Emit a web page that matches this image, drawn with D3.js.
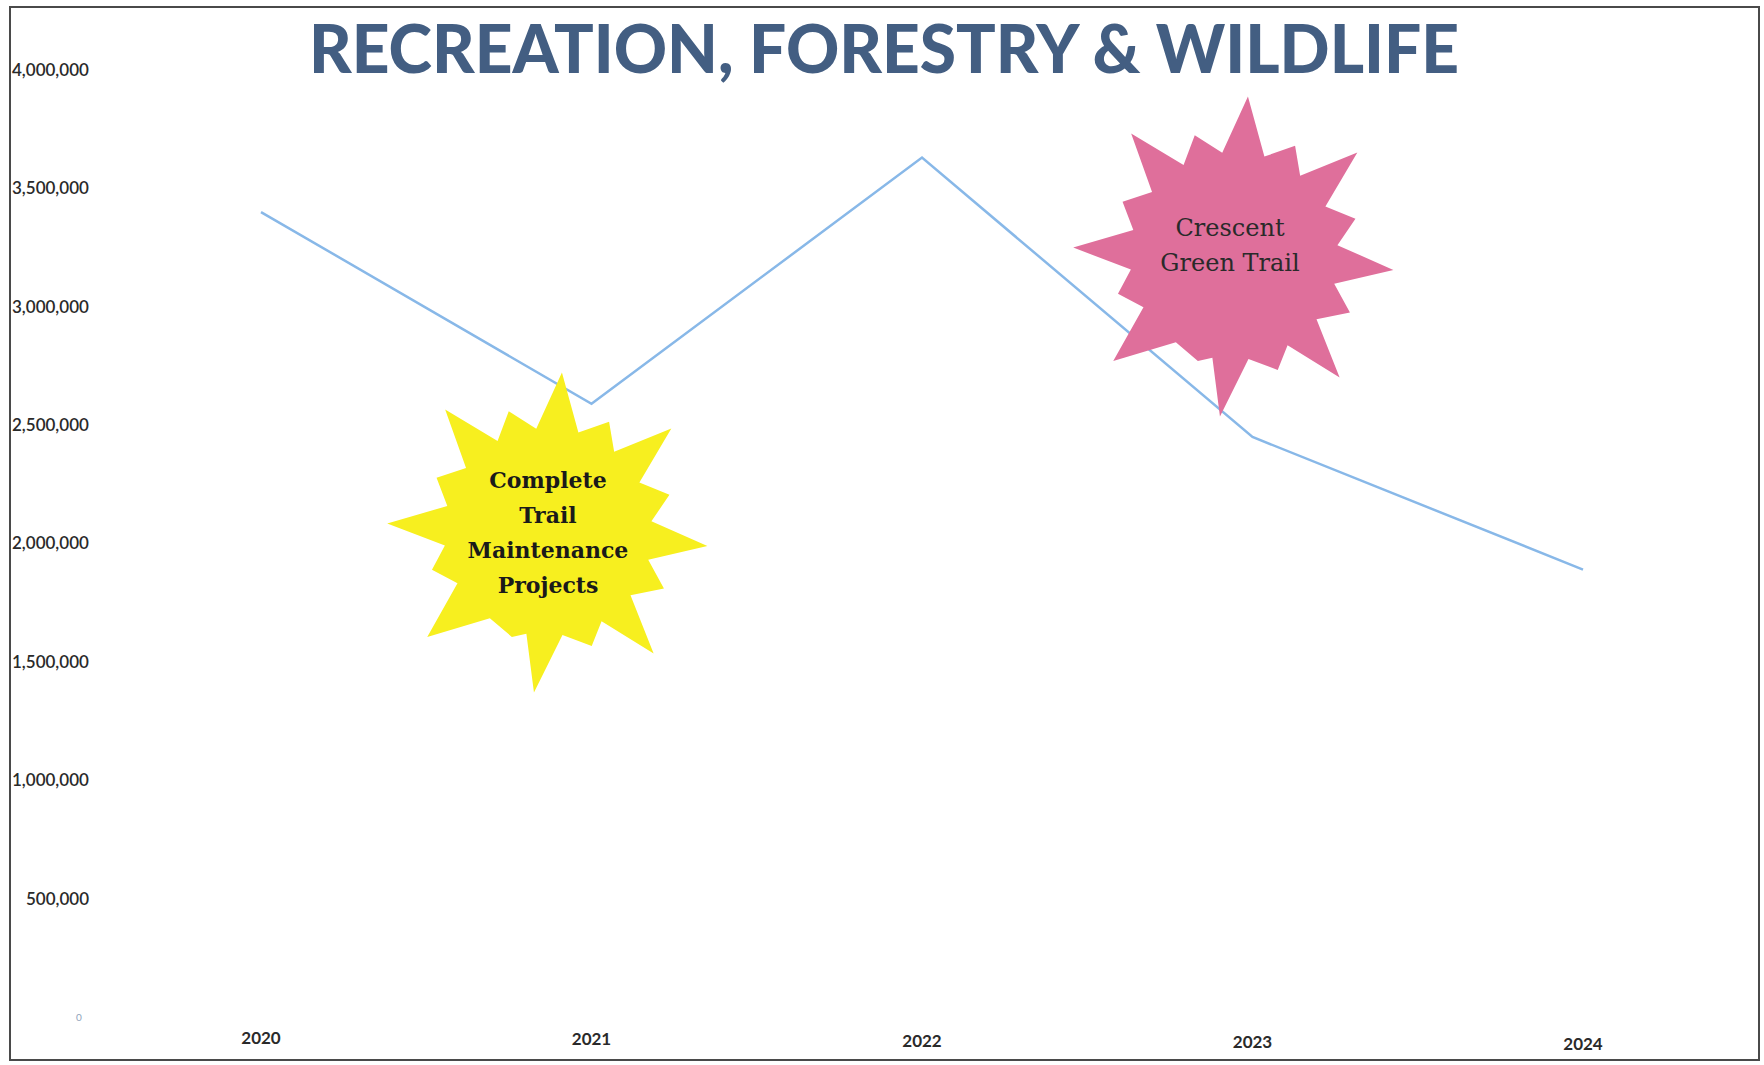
<!DOCTYPE html>
<html>
<head>
<meta charset="utf-8">
<script src="https://cdn.jsdelivr.net/npm/d3@7"></script>
<style>
  html, body { margin: 0; padding: 0; background: #fff; }
  svg { display: block; }
</style>
</head>
<body>
<svg id="chart" width="1764" height="1065"></svg>
<script>
// ---- data ----
const years = ["2020", "2021", "2022", "2023", "2024"];
const values = [3400000, 2590000, 3630000, 2450000, 1890000];
const yTicks = [0, 500000, 1000000, 1500000, 2000000, 2500000, 3000000, 3500000, 4000000];
const titleText = "RECREATION, FORESTRY & WILDLIFE";
const noteYellow = ["Complete", "Trail", "Maintenance", "Projects"];
const notePink = ["Crescent", "Green Trail"];

// starburst outline (angle deg, outer radius) shared by both callouts
const spikeAngles = [-85, -61, -40, -17, 5, 26, 49, 69, 95, 109, 139, 162, 183, 206, 230, 252];
const spikeRadii  = [160, 126, 161, 127, 160, 129, 161, 122, 161, 111, 160, 122, 161, 124, 160, 127];

const svg = d3.select("#chart");

// frame
svg.append("rect")
  .attr("x", 10).attr("y", 7).attr("width", 1749).attr("height", 1053)
  .attr("fill", "#fff").attr("stroke", "#4a4a4a").attr("stroke-width", 2);

// scales
const x = d3.scalePoint().domain(years).range([261, 1583]);
const y = d3.scaleLinear().domain([0, 4000000]).range([1017, 70]);
const fmt = d3.format(",");

// title
svg.append("text")
  .attr("x", 309).attr("y", 73)
  .attr("textLength", 1150).attr("lengthAdjust", "spacingAndGlyphs")
  .attr("font-family", "Lato, 'DejaVu Sans', sans-serif")
  .attr("font-weight", 900).attr("font-size", 66)
  .attr("fill", "#435e82")
  .text(titleText);

// y tick labels
svg.append("g").selectAll("text").data(yTicks).join("text")
  .attr("x", d => d === 0 ? 76 : (d < 1000000 ? 26 : 12))
  .attr("y", d => y(d))
  .attr("dy", "0.35em")
  .attr("font-family", "Lato, sans-serif")
  .attr("font-weight", d => d === 0 ? 400 : 600)
  .attr("font-size", d => d === 0 ? 10 : 17)
  .attr("fill", d => d === 0 ? "#8fa3bb" : "#2a2a2a")
  .text(d => fmt(d));

// x tick labels
svg.append("g").selectAll("text").data(years).join("text")
  .attr("x", d => x(d))
  .attr("y", (d, i) => 1038 + i * 1.4)
  .attr("dy", "0.35em")
  .attr("text-anchor", "middle")
  .attr("font-family", "Lato, sans-serif")
  .attr("font-weight", 700)
  .attr("font-size", 17)
  .attr("fill", "#2a2a2a")
  .text(d => d);

// line
const line = d3.line().x((d, i) => x(years[i])).y(d => y(d));
svg.append("path")
  .datum(values)
  .attr("d", line)
  .attr("fill", "none")
  .attr("stroke", "#88b8e8")
  .attr("stroke-width", 2.5)
  .attr("stroke-linejoin", "miter");

// starburst helper
function starPoints(cx, cy) {
  const pts = [];
  const n = spikeAngles.length;
  for (let i = 0; i < n; i++) {
    const a = spikeAngles[i];
    const b = spikeAngles[(i + 1) % n] + (i === n - 1 ? 360 : 0);
    const r = spikeRadii[i];
    pts.push([cx + r * Math.cos(a * Math.PI / 180), cy + r * Math.sin(a * Math.PI / 180)]);
    const m = (a + b) / 2;
    const ri = 104;
    pts.push([cx + ri * Math.cos(m * Math.PI / 180), cy + ri * Math.sin(m * Math.PI / 180)]);
  }
  return pts;
}
const polyLine = d3.line().curve(d3.curveLinearClosed);

// yellow callout
const yc = [548, 532];
svg.append("path")
  .attr("d", polyLine(starPoints(yc[0], yc[1])))
  .attr("fill", "#f7ef1f");
svg.append("g").selectAll("text").data(noteYellow).join("text")
  .attr("x", yc[0])
  .attr("y", (d, i) => 480 + i * 35)
  .attr("dy", "0.35em")
  .attr("text-anchor", "middle")
  .attr("font-family", "'DejaVu Serif', serif")
  .attr("font-weight", 700)
  .attr("font-size", 22)
  .attr("fill", "#1a1a1a")
  .text(d => d);

// pink callout
const pc = [1234, 256];
svg.append("path")
  .attr("d", polyLine(starPoints(pc[0], pc[1])))
  .attr("fill", "#df6f9b");
svg.append("g").selectAll("text").data(notePink).join("text")
  .attr("x", 1230)
  .attr("y", (d, i) => 228 + i * 35)
  .attr("dy", "0.35em")
  .attr("text-anchor", "middle")
  .attr("font-family", "'DejaVu Serif', serif")
  .attr("font-size", 24)
  .attr("fill", "#2a2a2a")
  .text(d => d);
</script>
</body>
</html>
